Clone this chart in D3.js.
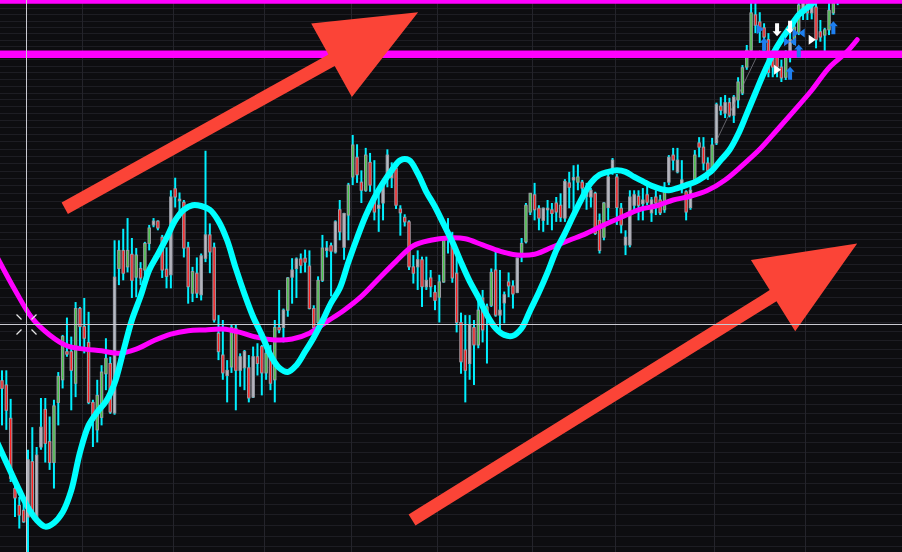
<!DOCTYPE html>
<html>
<head>
<meta charset="utf-8">
<script src="https://d3js.org/d3.v7.min.js"></script>
<style>
  body { margin: 0; background: #0d0d10; overflow: hidden; }
  svg { display: block; }
</style>
</head>
<body>
<script>
var width = 902, height = 552;

// daily bars (price units)
var opens = [
  14.86,14.81,14.43,13.66,13.48,13.43,13.36,13.95,13.35,14.11,
  14.53,14.17,13.94,14.61,14.87,15.20,15.20,14.83,15.72,15.50,
  15.31,14.61,14.30,14.44,14.94,15.06,14.49,16.22,16.45,16.24,
  16.40,16.11,16.22,16.20,16.54,16.78,16.83,16.62,16.21,16.14,
  17.26,17.10,17.08,16.49,15.91,16.16,15.89,16.35,16.65,16.49,
  15.42,15.16,14.92,15.02,15.48,14.98,15.01,15.01,14.67,15.14,
  15.26,14.95,15.14,14.87,15.49,15.49,15.70,16.11,16.22,16.34,
  16.35,16.25,15.72,15.55,16.07,16.45,16.51,16.43,16.98,16.49,
  16.91,17.42,17.69,17.35,17.24,17.62,17.15,17.00,17.07,17.45,
  17.41,17.54,16.99,16.88,16.82,16.24,16.24,16.33,15.99,16.10,
  15.92,15.86,16.05,16.68,16.58,16.16,15.55,15.22,15.06,15.49,
  15.28,15.85,15.61,15.76,16.20,15.64,15.79,16.05,16.00,15.92,
  16.41,16.56,16.95,17.18,17.00,16.84,16.98,16.98,17.07,17.04,
  16.87,17.34,17.38,17.35,17.35,17.16,17.15,17.20,16.84,16.62,
  17.01,17.51,17.42,17.00,16.52,16.52,17.04,17.16,17.06,17.18,
  16.94,17.15,17.11,16.98,17.35,17.72,17.49,17.27,17.22,17.01,
  17.38,17.89,17.83,17.61,17.55,17.89,18.41,18.31,18.46,18.28,
  18.50,18.60,18.98,19.23,19.77,19.66,19.57,19.39,19.12,19.20,
  18.98,18.83,19.12,19.34,19.49,19.80,20.12,19.80,19.89,19.51,
  19.46,19.54,19.80,20.05
];
var highs = [
  14.98,14.98,14.65,13.75,13.57,13.50,14.08,14.33,14.11,14.66,
  14.66,14.45,14.64,14.96,15.40,15.61,15.38,15.80,15.74,15.85,
  15.68,14.64,14.87,15.04,15.36,15.14,16.58,16.58,16.73,16.87,
  16.61,16.48,16.30,16.56,16.78,16.87,16.84,16.65,16.49,17.24,
  17.41,17.21,17.11,16.56,16.24,16.36,16.41,17.78,16.80,16.55,
  15.64,15.58,15.10,15.52,15.52,15.18,15.22,15.16,15.26,15.30,
  15.28,15.34,15.28,15.58,15.95,15.72,16.11,16.35,16.36,16.41,
  16.46,16.45,15.76,16.12,16.65,16.57,16.55,16.84,17.11,16.94,
  17.34,18.00,17.87,17.51,17.82,17.75,17.65,17.24,17.38,17.80,
  17.62,17.56,17.04,16.92,16.84,16.39,16.45,16.37,16.37,16.20,
  16.01,16.14,16.61,16.87,16.69,16.36,15.67,15.64,15.64,15.58,
  15.86,15.95,15.78,16.22,16.43,16.20,15.93,16.17,16.07,16.36,
  16.61,17.07,17.20,17.34,17.04,17.01,17.11,17.07,17.15,17.20,
  17.39,17.49,17.58,17.59,17.38,17.34,17.27,17.22,16.93,17.08,
  17.46,17.68,17.46,17.07,16.71,17.24,17.24,17.24,17.27,17.31,
  17.15,17.24,17.18,17.35,17.72,17.82,17.82,17.65,17.24,17.31,
  17.79,17.97,17.97,17.69,17.96,18.46,18.54,18.57,18.53,18.57,
  18.83,19.01,19.31,20.08,20.05,19.81,19.64,19.49,19.18,19.34,
  19.09,19.23,19.49,19.69,20.03,20.20,20.30,20.25,20.08,19.69,
  19.57,20.05,20.10,20.25
];
var lows = [
  14.35,14.30,13.73,13.36,13.24,13.30,12.92,13.38,13.33,14.08,
  13.94,13.86,13.66,14.35,14.77,15.14,14.52,14.67,15.22,15.18,
  14.59,14.11,14.16,14.35,14.75,14.48,14.47,16.01,16.07,16.17,
  15.85,15.86,16.01,16.11,16.45,16.75,16.71,16.10,15.97,15.97,
  17.01,16.87,16.36,15.78,15.80,15.85,15.82,16.30,16.16,15.55,
  15.10,14.87,14.61,14.95,14.52,14.79,14.75,14.61,14.66,14.92,
  14.69,14.87,14.75,14.61,15.42,15.31,15.62,15.78,15.85,16.16,
  16.17,15.71,15.46,15.53,16.05,16.36,15.87,16.41,16.58,16.33,
  16.58,17.31,17.34,17.07,17.22,17.22,16.84,16.69,16.84,17.28,
  17.27,16.99,16.64,16.76,16.20,16.03,15.95,15.74,15.95,15.86,
  15.70,15.55,16.04,16.41,16.04,15.43,14.94,14.61,14.87,14.81,
  15.24,15.31,15.06,15.74,15.62,15.43,15.54,15.86,15.72,15.91,
  16.30,16.54,16.91,16.84,16.71,16.69,16.78,16.71,16.82,16.82,
  16.82,17.00,16.95,17.24,17.08,16.98,17.01,16.65,16.41,16.58,
  16.84,17.45,16.78,16.67,16.39,16.49,16.95,16.84,16.84,17.04,
  16.82,16.91,16.91,16.94,17.31,17.51,17.47,17.20,16.84,16.98,
  17.35,17.69,17.51,17.38,17.47,17.86,18.28,18.24,18.25,18.17,
  18.38,18.57,18.94,19.18,19.49,19.34,19.18,18.83,18.83,18.83,
  18.76,18.79,19.05,19.31,19.46,19.69,19.69,19.70,19.26,19.36,
  19.18,19.46,19.77,19.92
];
var closes = [
  14.77,14.52,13.77,13.56,13.38,13.31,13.97,13.40,14.02,14.33,
  14.15,13.94,14.57,14.91,15.38,15.17,14.98,15.72,15.50,15.36,
  14.61,14.41,14.69,14.96,15.12,14.50,16.11,16.45,16.16,16.45,
  16.07,16.39,16.10,16.54,16.74,16.83,16.74,16.20,16.12,17.15,
  17.15,17.12,16.48,15.99,16.18,15.91,16.38,16.65,16.43,15.58,
  15.20,14.95,14.98,15.49,14.98,15.14,15.20,14.66,15.14,15.06,
  14.95,15.18,14.83,15.49,15.46,15.70,16.10,16.20,16.34,16.26,
  16.30,15.72,15.49,16.07,16.48,16.48,16.44,16.82,16.69,16.93,
  17.31,17.86,17.45,17.24,17.72,17.31,16.95,17.04,17.34,17.72,
  17.55,17.04,16.94,16.82,16.24,16.16,16.33,15.99,16.07,15.99,
  15.82,16.05,16.58,16.63,16.10,15.55,15.08,14.98,15.52,15.28,
  15.70,15.46,15.74,16.17,15.64,15.70,15.89,16.00,15.90,16.35,
  16.54,17.04,17.20,16.98,16.87,17.00,17.00,16.93,16.95,16.88,
  17.36,17.28,17.41,17.42,17.27,17.24,17.24,16.67,16.45,17.07,
  17.42,17.65,17.01,16.78,16.62,17.15,17.18,17.04,17.11,17.08,
  17.11,17.07,16.94,17.22,17.69,17.65,17.65,17.38,16.95,17.24,
  17.72,17.83,17.61,17.51,17.86,18.43,18.35,18.46,18.28,18.54,
  18.76,18.97,19.23,19.80,19.61,19.54,19.43,18.90,18.98,18.98,
  18.82,19.12,19.39,19.58,19.92,20.02,19.80,20.10,19.39,19.43,
  19.54,19.84,19.95,20.15
];
// up bars drawn with a grey body instead of green
var greyBars = [6,8,9,26,35,39,41,46,47,52,55,56,58,65,67,68,75,77,79,87,88,89,90,
  96,98,108,115,116,119,125,126,130,132,135,136,140,141,144,145,146,148,150,154,
  156,157,159,165,167,169,182,185,187];

// first bar of each month
var monthStarts = [19, 40, 61, 81, 101, 123, 142, 165, 186];

// moving averages [bar, price]
var maFast = [[-1,14.15],[2,13.84],[4,13.64],[6,13.46],[8,13.33],[10,13.26],[12,13.30],[14,13.41],
  [16,13.64],[18,14.05],[20,14.35],[22,14.50],[24,14.62],[26,14.83],[28,15.20],[30,15.58],
  [32,15.87],[34,16.20],[36,16.40],[38,16.61],[40,16.84],[42,16.98],[44,17.04],[46,17.03],
  [48,16.98],[50,16.83],[52,16.58],[54,16.22],[56,15.90],[58,15.62],[60,15.40],[62,15.16],
  [64,15.01],[66,14.96],[68,15.04],[70,15.20],[72,15.37],[74,15.57],[76,15.79],[78,15.97],
  [80,16.30],[82,16.61],[84,16.90],[86,17.14],[88,17.34],[90,17.51],[92,17.65],[94,17.65],
  [96,17.47],[98,17.22],[100,17.02],[102,16.79],[104,16.56],[106,16.30],[108,16.06],[110,15.86],
  [112,15.64],[114,15.48],[116,15.40],[118,15.39],[120,15.48],[122,15.70],[124,15.92],[126,16.17],
  [128,16.45],[130,16.67],[132,16.91],[134,17.14],[136,17.34],[138,17.45],[140,17.49],[142,17.51],
  [144,17.49],[146,17.42],[148,17.36],[150,17.30],[152,17.26],[154,17.24],[156,17.27],[158,17.31],
  [160,17.35],[162,17.42],[164,17.51],[166,17.65],[168,17.79],[170,18.01],[172,18.30],[174,18.60],
  [176,18.90],[178,19.17],[180,19.39],[182,19.58],[184,19.77],[186,19.88],[188,20.00],[190,20.13],
  [193,20.31]];
var maSlow = [[-1,16.35],[3,15.95],[7,15.60],[11,15.40],[15,15.27],[19,15.23],[23,15.21],[27,15.18],
  [31,15.23],[35,15.33],[39,15.41],[43,15.45],[47,15.46],[51,15.47],[55,15.43],[59,15.37],
  [63,15.34],[67,15.35],[71,15.42],[75,15.56],[79,15.70],[83,15.87],[87,16.09],[91,16.31],
  [95,16.51],[99,16.58],[103,16.61],[107,16.60],[111,16.52],[115,16.44],[119,16.39],[123,16.40],
  [127,16.49],[131,16.58],[135,16.67],[139,16.78],[143,16.88],[147,16.98],[151,17.03],[155,17.11],
  [159,17.16],[163,17.24],[167,17.38],[171,17.58],[175,17.80],[179,18.07],[183,18.35],[187,18.64],
  [191,18.97],[195,19.20],[197.5,19.39]];

// drawn levels and annotations
var levels = [20.00, 19.17];
var trendLine = [[165, 17.92], [175, 19.23]];
var arrows = [
  { from: [14.5, 17.00], to: [96.1, 19.81] },
  { from: [94.7, 13.33], to: [197.5, 16.54] }
];
var upSignals = [[176, 19.32], [184, 19.22], [182, 18.89], [192, 19.57]];
var downSignals = [[179, 19.54], [182, 19.58]];
var bowSignals = [[184, 19.49], [182, 19.36]];
var pointSignals = [[187, 19.39, "#ffffff"], [179, 18.94, "#ffffff"], [175, 19.55, "#1e7ff0"]];
var cursor = { bar: 5.5, price: 15.53 };

var x = d3.scaleLinear().domain([-0.46, 207.85]).range([0, width]);
var y = d3.scaleLog().domain([13, 20]).range([height, 0]);
// the platform's price grid (steps of 0.10 on its own log axis)
var yGrid = d3.scaleLog().domain([8.55, 15.33]).range([height, 0]);

var svg = d3.select("body").append("svg")
  .attr("width", width)
  .attr("height", height);

svg.append("rect").attr("width", width).attr("height", height).attr("fill", "#0d0d10");

// grid
var gridLevels = d3.range(86, 154).map(function(d) { return d / 10; });
svg.append("g").selectAll("line")
  .data(gridLevels).enter().append("line")
  .attr("x1", 0).attr("x2", width)
  .attr("y1", function(d) { return Math.round(yGrid(d)) + 0.5; })
  .attr("y2", function(d) { return Math.round(yGrid(d)) + 0.5; })
  .attr("stroke", "#1d1d23").attr("stroke-width", 1);

svg.append("g").selectAll("line")
  .data(monthStarts).enter().append("line")
  .attr("x1", function(d) { return Math.round(x(d - 0.5)) + 0.5; })
  .attr("x2", function(d) { return Math.round(x(d - 0.5)) + 0.5; })
  .attr("y1", 0).attr("y2", height)
  .attr("stroke", "#24242b").attr("stroke-width", 1);

// candles
var bars = d3.range(opens.length);
var candles = svg.append("g");
candles.selectAll("line")
  .data(bars).enter().append("line")
  .attr("x1", function(i) { return x(i); })
  .attr("x2", function(i) { return x(i); })
  .attr("y1", function(i) { return y(highs[i]); })
  .attr("y2", function(i) { return y(lows[i]); })
  .attr("stroke", "#00f0ff").attr("stroke-width", 2);

function bodyColor(i) {
  if (closes[i] < opens[i]) return "#ff1f1f";
  return greyBars.indexOf(i) >= 0 ? "#b9b9c1" : "#45c445";
}

candles.selectAll("rect")
  .data(bars).enter().append("rect")
  .attr("x", function(i) { return x(i) - 1.2; })
  .attr("width", 2.4)
  .attr("y", function(i) { return y(Math.max(opens[i], closes[i])); })
  .attr("height", function(i) {
    return Math.max(1.5, y(Math.min(opens[i], closes[i])) - y(Math.max(opens[i], closes[i])));
  })
  .attr("fill", bodyColor)
  .attr("stroke", "#9d9da6").attr("stroke-width", 1);

// thin trend line
svg.append("line")
  .attr("x1", x(trendLine[0][0])).attr("y1", y(trendLine[0][1]))
  .attr("x2", x(trendLine[1][0])).attr("y2", y(trendLine[1][1]))
  .attr("stroke", "#8a8a92").attr("stroke-width", 1).attr("opacity", 0.7);

// moving averages
var maLine = d3.line()
  .x(function(d) { return x(d[0]); })
  .y(function(d) { return y(d[1]); })
  .curve(d3.curveCatmullRom.alpha(0.5));

svg.append("path").datum(maSlow)
  .attr("d", maLine).attr("fill", "none")
  .attr("stroke", "#ff00ff").attr("stroke-width", 5)
  .attr("stroke-linecap", "round").attr("stroke-linejoin", "round");

svg.append("path").datum(maFast)
  .attr("d", maLine).attr("fill", "none")
  .attr("stroke", "#00ffff").attr("stroke-width", 6)
  .attr("stroke-linecap", "round").attr("stroke-linejoin", "round");

// horizontal levels
svg.append("g").selectAll("line")
  .data(levels).enter().append("line")
  .attr("x1", 0).attr("x2", width)
  .attr("y1", function(d) { return y(d); })
  .attr("y2", function(d) { return y(d); })
  .attr("stroke", "#ff00ff").attr("stroke-width", 7.5);

// signal markers
var marks = svg.append("g");
marks.selectAll(".up").data(upSignals).enter().append("path")
  .attr("transform", function(d) { return "translate(" + x(d[0]) + "," + y(d[1]) + ")"; })
  .attr("d", "M0,-6.5L4.5,-1.5L2,-1.5L2,6.5L-2,6.5L-2,-1.5L-4.5,-1.5Z")
  .attr("fill", "#1e7ff0");
marks.selectAll(".down").data(downSignals).enter().append("path")
  .attr("transform", function(d) { return "translate(" + x(d[0]) + "," + y(d[1]) + ")"; })
  .attr("d", "M0,6.5L4.5,1.5L2,1.5L2,-6.5L-2,-6.5L-2,1.5L-4.5,1.5Z")
  .attr("fill", "#ffffff");
marks.selectAll(".bow").data(bowSignals).enter().append("path")
  .attr("transform", function(d) { return "translate(" + x(d[0]) + "," + y(d[1]) + ")"; })
  .attr("d", "M-6,-4.5L0,0L-6,4.5ZM6,-4.5L0,0L6,4.5Z")
  .attr("fill", "#1e7ff0");
marks.selectAll(".point").data(pointSignals).enter().append("path")
  .attr("transform", function(d) { return "translate(" + x(d[0]) + "," + y(d[1]) + ")"; })
  .attr("d", "M-3,-5L4,0L-3,5Z")
  .attr("fill", function(d) { return d[2]; });

// red annotation arrows
function arrowPath(a) {
  var x0 = x(a.from[0]), y0 = y(a.from[1]);
  var x1 = x(a.to[0]), y1 = y(a.to[1]);
  var len = Math.hypot(x1 - x0, y1 - y0);
  var ux = (x1 - x0) / len, uy = (y1 - y0) / len;
  var nx = -uy, ny = ux;
  var shaft = 6.5, head = 42, headLen = 99;
  var bx = x1 - ux * headLen, by = y1 - uy * headLen;
  var pts = [
    [x0 + nx * shaft, y0 + ny * shaft],
    [bx + nx * shaft, by + ny * shaft],
    [bx + nx * head, by + ny * head],
    [x1, y1],
    [bx - nx * head, by - ny * head],
    [bx - nx * shaft, by - ny * shaft],
    [x0 - nx * shaft, y0 - ny * shaft]
  ];
  return "M" + pts.map(function(p) { return p[0].toFixed(1) + "," + p[1].toFixed(1); }).join("L") + "Z";
}
svg.append("g").selectAll("path")
  .data(arrows).enter().append("path")
  .attr("d", arrowPath)
  .attr("fill", "#fb4437");

// crosshair
var cx = Math.round(x(cursor.bar)) + 0.5, cy = Math.round(y(cursor.price)) + 0.5;
var cross = svg.append("g").attr("stroke", "#c9c9d1").attr("stroke-width", 1);
cross.append("line").attr("x1", cx).attr("x2", cx).attr("y1", 0).attr("y2", height);
cross.append("line").attr("x1", 0).attr("x2", width).attr("y1", cy).attr("y2", cy);
[[-1, -1], [1, -1], [-1, 1], [1, 1]].forEach(function(s) {
  cross.append("line")
    .attr("x1", cx + s[0] * 5).attr("y1", cy + s[1] * 5)
    .attr("x2", cx + s[0] * 10).attr("y2", cy + s[1] * 10)
    .attr("stroke", "#e6e6e6").attr("stroke-width", 1.2);
});
</script>
</body>
</html>
